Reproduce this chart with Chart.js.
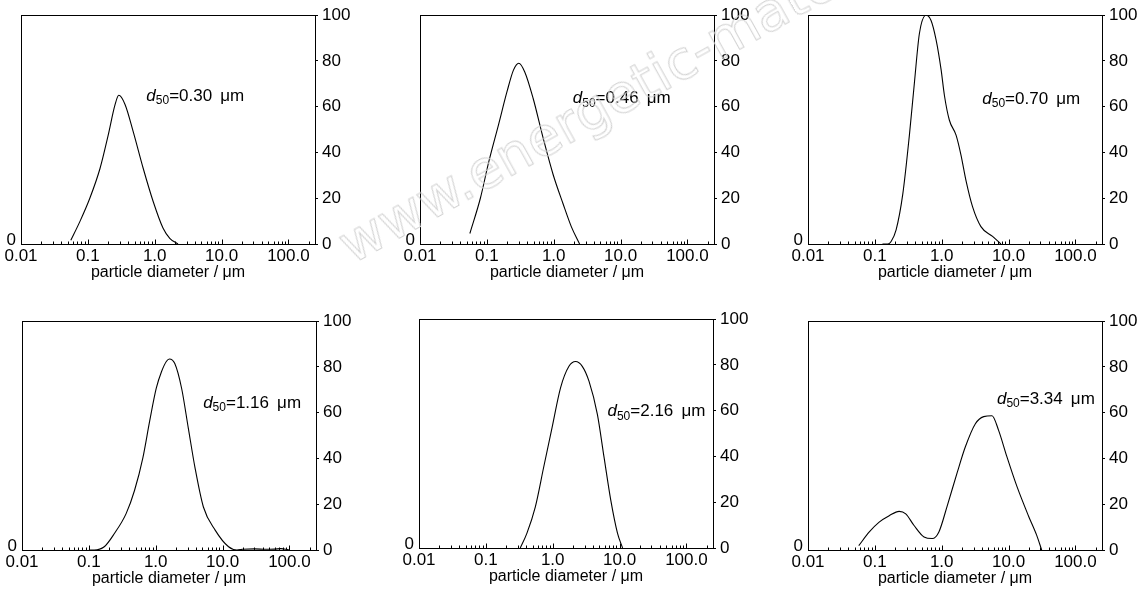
<!DOCTYPE html>
<html>
<head>
<meta charset="utf-8">
<script src="https://cdn.jsdelivr.net/npm/chart.js@4.4.1/dist/chart.umd.min.js"></script>
<style>
  body { margin: 0; background: #fff; width: 1139px; height: 600px; overflow: hidden; position: relative; }
  .panel { position: absolute; width: 350px; height: 290px; }
  .wm {
    position: absolute; left: 356px; top: 218px; font: 54px 'DejaVu Sans', sans-serif; line-height: 54px;
    white-space: nowrap; color: transparent; -webkit-text-stroke: 1px #d2d2d2;
    transform-origin: left bottom; transform: rotate(-29deg); pointer-events: none;
  }
</style>
</head>
<body>
<div class="panel" style="left:0px;top:0px"><canvas id="c1"></canvas></div>
<div class="panel" style="left:399px;top:0px"><canvas id="c2"></canvas></div>
<div class="panel" style="left:787px;top:0px"><canvas id="c3"></canvas></div>
<div class="panel" style="left:1px;top:306px"><canvas id="c4"></canvas></div>
<div class="panel" style="left:398px;top:304px"><canvas id="c5"></canvas></div>
<div class="panel" style="left:787px;top:306px"><canvas id="c6"></canvas></div>
<div class="wm">www.energetic-materials.org.cn</div>
<script>
// axis ticks
const xTickVals = [0.01, 0.1, 1, 10, 100];
const xTickText = ['0.01', '0.1', '1.0', '10.0', '100.0'];
const d50Text = ['0.30', '0.46', '0.70', '1.16', '2.16', '3.34'];

// particle diameter (um) / distribution values, one pair per panel
const diam1 = [0.0556, 0.0765, 0.107, 0.152, 0.202, 0.254, 0.29, 0.36, 0.478, 0.674, 0.946, 1.33, 1.68, 2.23];
const dist1 = [1.6, 10, 20, 33, 47.7, 60.7, 65, 61, 49, 33, 18.7, 7, 2.5, 0];

const diam2 = [0.0557, 0.08, 0.107, 0.149, 0.202, 0.25, 0.3, 0.369, 0.492, 0.694, 0.977, 1.38, 1.84, 2.44];
const dist2 = [4.6, 20, 36, 52, 67, 76, 79, 75.2, 63.7, 46.4, 30.5, 17.6, 7.5, 0];

const diam3 = [0.13, 0.156, 0.175, 0.208, 0.262, 0.329, 0.391, 0.464, 0.583, 0.693, 0.823, 0.977, 1.1, 1.3, 1.64, 1.94, 2.31, 2.9, 3.86, 5.77, 7.69];
const dist3 = [0, 0, 1.1, 6.2, 21.9, 47.7, 70.6, 92, 100, 97.7, 89.3, 76.4, 64.8, 54.2, 47.6, 39, 27.7, 16.2, 7.6, 3.3, 0];

const diam4 = [0.1, 0.12, 0.17, 0.241, 0.361, 0.482, 0.644, 0.812, 1.02, 1.22, 1.45, 1.6, 1.93, 2.44, 3.07, 3.87, 5.17, 7.75, 12.3, 16.4, 20, 30, 45, 60, 75, 90, 100];
const dist4 = [0, 0, 1.4, 7.2, 15.9, 26, 40.4, 56.3, 70.7, 77.9, 82.5, 83.5, 81.5, 70.7, 53.4, 36, 18.8, 8.7, 1.4, 0, 0.3, 0.5, 0.3, 0.4, 0.6, 0.3, 0];

const diam5 = [0.327, 0.412, 0.55, 0.734, 0.98, 1.31, 1.75, 2.2, 2.77, 3.49, 4.66, 5.86, 7.39, 9.31, 11.1];
const dist5 = [0, 6.5, 18, 35.4, 52.7, 70, 79.4, 81.5, 79.4, 72.9, 58.4, 39.7, 20.9, 6.5, 0];

const diam6 = [0.0574, 0.0826, 0.116, 0.164, 0.231, 0.29, 0.386, 0.544, 0.723, 0.908, 1.21, 1.7, 2.26, 3.19, 4.25, 5.65, 7.1, 9.44, 13.3, 19.8, 26.4, 31.3];
const dist6 = [1.9, 7.9, 12.2, 15, 16.9, 15.8, 10.7, 5.7, 5, 7.9, 19.3, 33.7, 45.1, 55.2, 58.3, 58.7, 52.3, 40.8, 27.9, 15, 6.4, 0];

const FONT = "'Liberation Sans', Arial, sans-serif";
Chart.defaults.font.family = FONT;
Chart.defaults.color = '#000';

// box round the plot + small inward ticks on the log axis
const framePlugin = {
  id: 'frame',
  afterDatasetsDraw(chart) {
    const { ctx, chartArea: a, scales: { x } } = chart;
    ctx.save();
    ctx.strokeStyle = '#000';
    ctx.lineWidth = 1;
    const l = Math.round(a.left) + 0.5, t = Math.round(a.top) + 0.5;
    const r = Math.round(a.right) + 0.5, b = Math.round(a.bottom) + 0.5;
    ctx.strokeRect(l, t, r - l, b - t);
    ctx.beginPath();
    for (let e = -2; e <= 2; e++) {
      for (let m = 1; m < 10; m++) {
        const v = m * Math.pow(10, e);
        if (v < x.min || v > x.max) continue;
        const px = Math.round(x.getPixelForValue(v)) + 0.5;
        ctx.moveTo(px, b);
        ctx.lineTo(px, b - (m === 1 ? 5 : 3));
      }
    }
    ctx.stroke();
    ctx.restore();
  }
};

// d50 label
const notePlugin = {
  id: 'note',
  afterDatasetsDraw(chart, args, opts) {
    const { ctx, scales: { x, y } } = chart;
    let px = x.getPixelForValue(opts.x);
    const py = y.getPixelForValue(opts.y);
    ctx.save();
    ctx.fillStyle = '#000';
    ctx.textBaseline = 'middle';
    ctx.textAlign = 'left';
    ctx.font = 'italic 17px ' + FONT;
    ctx.fillText('d', px, py);
    px += ctx.measureText('d').width;
    ctx.font = '12px ' + FONT;
    ctx.fillText('50', px, py + 5);
    px += ctx.measureText('50').width;
    ctx.font = '17px ' + FONT;
    ctx.fillText('=' + opts.text + ' \u2009\u03bcm', px, py);
    ctx.restore();
  }
};

function makePanel(id, diam, dist, note) {
  new Chart(document.getElementById(id), {
    type: 'line',
    data: {
      datasets: [{
        data: diam.map((d, i) => ({ x: d, y: dist[i] })),
        borderColor: '#000',
        borderWidth: 1.1,
        pointRadius: 0,
        cubicInterpolationMode: 'monotone',
        fill: false
      }]
    },
    options: {
      responsive: true,
      maintainAspectRatio: false,
      animation: false,
      layout: { padding: { top: 13, left: 0, right: 0, bottom: 0 } },
      plugins: {
        legend: { display: false },
        tooltip: { enabled: false },
        note: note
      },
      scales: {
        x: {
          type: 'logarithmic',
          position: 'bottom',
          min: 0.01,
          max: 250,
          afterBuildTicks: s => { s.ticks = xTickVals.map(v => ({ value: v })); },
          afterFit: s => { s.height = 46; },
          ticks: {
            autoSkip: false,
            maxRotation: 0,
            padding: 2,
            font: { size: 17 },
            callback: v => xTickText[xTickVals.indexOf(v)]
          },
          grid: { display: false, drawTicks: false },
          border: { display: false },
          title: {
            display: true,
            text: 'particle diameter / \u03bcm',
            font: { size: 16 },
            padding: { top: 0, bottom: 8 }
          }
        },
        y: {
          type: 'linear',
          position: 'right',
          min: 0,
          max: 100,
          afterFit: s => { s.width = 35; },
          ticks: {
            stepSize: 10,
            padding: 4,
            font: { size: 17 },
            callback: v => (v % 20 === 0 ? v : '')
          },
          grid: { drawOnChartArea: false, drawTicks: true, tickLength: 3, tickColor: '#000' },
          border: { display: false }
        },
        yl: {
          type: 'linear',
          position: 'left',
          min: 0,
          max: 100,
          afterBuildTicks: s => { s.ticks = [{ value: 0 }]; },
          afterFit: s => { s.width = 21; },
          ticks: { padding: 5, labelOffset: -4, font: { size: 17 } },
          grid: { display: false, drawTicks: false },
          border: { display: false }
        }
      }
    },
    plugins: [framePlugin, notePlugin]
  });
}

makePanel('c1', diam1, dist1, { text: d50Text[0], x: 0.75, y: 64.7 });
makePanel('c2', diam2, dist2, { text: d50Text[1], x: 1.93, y: 63.5 });
makePanel('c3', diam3, dist3, { text: d50Text[2], x: 4.05, y: 63.4 });
makePanel('c4', diam4, dist4, { text: d50Text[3], x: 5.13, y: 64.2 });
makePanel('c5', diam5, dist5, { text: d50Text[4], x: 6.6, y: 59.7 });
makePanel('c6', diam6, dist6, { text: d50Text[5], x: 6.7, y: 66 });
</script>
</body>
</html>
